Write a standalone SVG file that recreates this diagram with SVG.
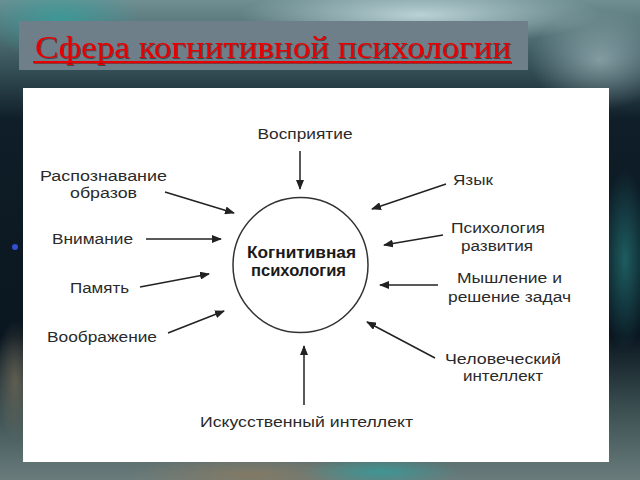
<svg xmlns="http://www.w3.org/2000/svg" width="640" height="480" viewBox="0 0 640 480">
<defs>
<style>
.lbl{font-family:"Liberation Sans",Arial,sans-serif;font-size:15.5px;fill:#2a2a2a;text-anchor:middle}
.ctr{font-family:"Liberation Sans",Arial,sans-serif;font-size:16px;font-weight:bold;fill:#1a1a1a;text-anchor:middle}
.con{stroke:#222;stroke-width:1.5;fill:none;marker-end:url(#ah)}
</style>
<marker id="ah" viewBox="0 0 10 8" refX="9" refY="4" markerWidth="10" markerHeight="8" markerUnits="userSpaceOnUse" orient="auto">
<path d="M0,0 L10,4 L0,8 Z" fill="#222"/>
</marker>
<linearGradient id="bgv" x1="0" y1="0" x2="0" y2="1">
<stop offset="0" stop-color="#6f8f92"/>
<stop offset="0.12" stop-color="#3d5a60"/>
<stop offset="0.25" stop-color="#0f1e28"/>
<stop offset="0.7" stop-color="#0a1620"/>
<stop offset="0.85" stop-color="#3a4e50"/>
<stop offset="1" stop-color="#6a7c7c"/>
</linearGradient>
<radialGradient id="glowT" cx="0.5" cy="0.5" r="0.5">
<stop offset="0" stop-color="#cfe6ea" stop-opacity="0.8"/>
<stop offset="1" stop-color="#cfe6ea" stop-opacity="0"/>
</radialGradient>
<radialGradient id="glowC" cx="0.5" cy="0.5" r="0.5">
<stop offset="0" stop-color="#2fa3a0" stop-opacity="0.7"/>
<stop offset="1" stop-color="#2fa3a0" stop-opacity="0"/>
</radialGradient>
<radialGradient id="glowB" cx="0.5" cy="0.5" r="0.5">
<stop offset="0" stop-color="#8a7a60" stop-opacity="0.8"/>
<stop offset="1" stop-color="#8a7a60" stop-opacity="0"/>
</radialGradient>
<filter id="sh" x="-5%" y="-20%" width="110%" height="140%">
<feDropShadow dx="1" dy="1" stdDeviation="0.5" flood-color="#000" flood-opacity="0.45"/>
</filter>
</defs>
<g id="background">
<rect x="0" y="0" width="640" height="480" fill="url(#bgv)"/>
<ellipse cx="420" cy="15" rx="180" ry="30" fill="url(#glowT)"/>
<ellipse cx="600" cy="60" rx="70" ry="50" fill="url(#glowT)" opacity="0.6"/>
<ellipse cx="60" cy="20" rx="80" ry="40" fill="url(#glowC)"/>
<ellipse cx="625" cy="260" rx="25" ry="90" fill="url(#glowC)" opacity="0.7"/>
<ellipse cx="15" cy="380" rx="20" ry="60" fill="url(#glowB)" opacity="0.7"/>
<ellipse cx="250" cy="475" rx="120" ry="20" fill="url(#glowB)"/>
<ellipse cx="380" cy="472" rx="80" ry="15" fill="url(#glowC)"/>
<circle cx="15" cy="247" r="3" fill="#3a5cff" opacity="0.8"/>
</g>
<g id="title">
<rect x="19" y="21" width="509" height="49" fill="#6e7f8a"/>
<text x="35" y="58" textLength="476" lengthAdjust="spacingAndGlyphs" font-family="'Liberation Serif','Times New Roman',serif" font-size="32" fill="#e60000" filter="url(#sh)">Сфера когнитивной психологии</text>
<rect x="33" y="61" width="478" height="2.2" fill="#e60000" filter="url(#sh)"/>
</g>
<rect id="panel" x="23" y="88" width="586" height="374" fill="#ffffff"/>
<g id="connectors">
<line class="con" x1="300" y1="151" x2="300" y2="189"/>
<line class="con" x1="165" y1="192" x2="234" y2="213"/>
<line class="con" x1="146" y1="239" x2="221" y2="239"/>
<line class="con" x1="140" y1="287" x2="209" y2="274"/>
<line class="con" x1="168" y1="333" x2="224" y2="311"/>
<line class="con" x1="304" y1="405" x2="304" y2="346"/>
<line class="con" x1="446" y1="184" x2="372" y2="209"/>
<line class="con" x1="443" y1="235" x2="384" y2="245"/>
<line class="con" x1="438" y1="285" x2="380" y2="285"/>
<line class="con" x1="435" y1="358" x2="367" y2="322"/>
</g>
<g id="center">
<circle cx="300.5" cy="265" r="67.5" fill="none" stroke="#333" stroke-width="1.5"/>
<text class="ctr" x="301.5" y="258" textLength="109" lengthAdjust="spacingAndGlyphs">Когнитивная</text>
<text class="ctr" x="298.5" y="276" textLength="95" lengthAdjust="spacingAndGlyphs">психология</text>
</g>
<g id="n-vospr"><text class="lbl" x="305" y="139" textLength="95" lengthAdjust="spacingAndGlyphs">Восприятие</text></g>
<g id="n-raspozn"><text class="lbl" x="103.5" y="181" textLength="127" lengthAdjust="spacingAndGlyphs">Распознавание</text><text class="lbl" x="103.5" y="198" textLength="67" lengthAdjust="spacingAndGlyphs">образов</text></g>
<g id="n-vnim"><text class="lbl" x="92.5" y="244" textLength="81" lengthAdjust="spacingAndGlyphs">Внимание</text></g>
<g id="n-pamyat"><text class="lbl" x="99.5" y="293" textLength="59" lengthAdjust="spacingAndGlyphs">Память</text></g>
<g id="n-voobr"><text class="lbl" x="102" y="342" textLength="110" lengthAdjust="spacingAndGlyphs">Воображение</text></g>
<g id="n-ii"><text class="lbl" x="306.5" y="427" textLength="213" lengthAdjust="spacingAndGlyphs">Искусственный интеллект</text></g>
<g id="n-yazyk"><text class="lbl" x="473" y="185" textLength="40" lengthAdjust="spacingAndGlyphs">Язык</text></g>
<g id="n-psirazv"><text class="lbl" x="498" y="233" textLength="94" lengthAdjust="spacingAndGlyphs">Психология</text><text class="lbl" x="497" y="251" textLength="72" lengthAdjust="spacingAndGlyphs">развития</text></g>
<g id="n-mysh"><text class="lbl" x="509.5" y="283" textLength="105" lengthAdjust="spacingAndGlyphs">Мышление и</text><text class="lbl" x="509.5" y="302" textLength="123" lengthAdjust="spacingAndGlyphs">решение задач</text></g>
<g id="n-chel"><text class="lbl" x="503" y="364" textLength="116" lengthAdjust="spacingAndGlyphs">Человеческий</text><text class="lbl" x="503" y="381" textLength="80" lengthAdjust="spacingAndGlyphs">интеллект</text></g>
</svg>
